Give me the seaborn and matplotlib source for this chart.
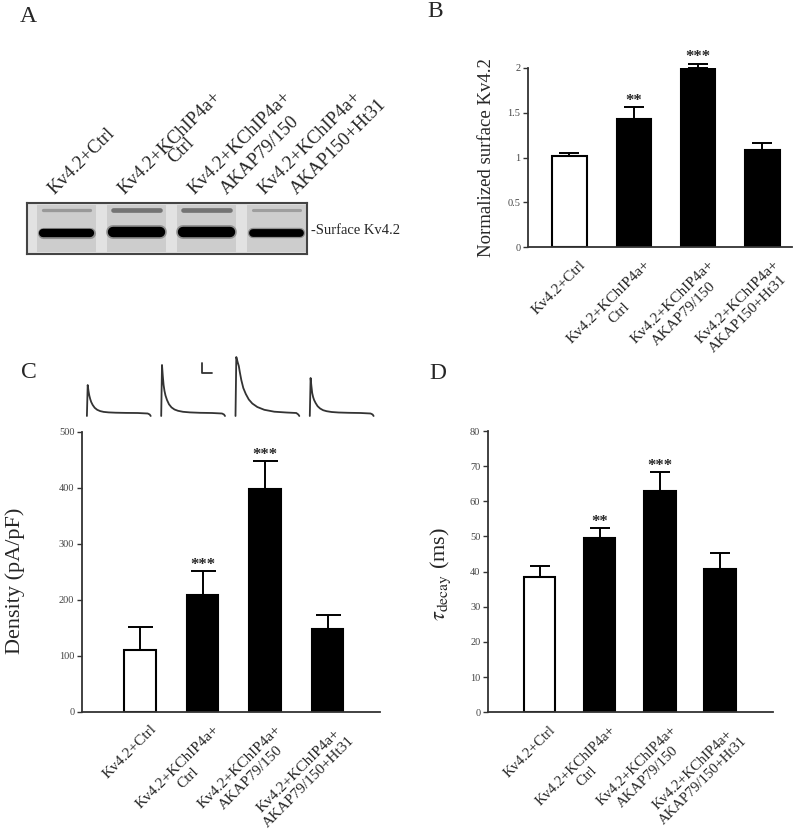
import matplotlib
matplotlib.use('Agg')
import matplotlib.pyplot as plt
import pandas as pd
import seaborn as sns
from matplotlib.patches import Rectangle
from matplotlib.transforms import ScaledTranslation

# ---- data ----
labels_ab = ['Kv4.2+Ctrl', 'Kv4.2+KChIP4a+\nCtrl', 'Kv4.2+KChIP4a+\nAKAP79/150',
             'Kv4.2+KChIP4a+\nAKAP150+Ht31']
labels_cd = ['Kv4.2+Ctrl', 'Kv4.2+KChIP4a+\nCtrl', 'Kv4.2+KChIP4a+\nAKAP79/150',
             'Kv4.2+KChIP4a+\nAKAP79/150+Ht31']
bar_colors = ['white', 'black', 'black', 'black']

# B: normalized surface Kv4.2
surface_mean = [1.02, 1.43, 2.00, 1.09]
surface_sem = [0.03, 0.13, 0.05, 0.07]
surface_stars = ['', '**', '***', '']

# C: current density (pA/pF)
density_mean = [110, 208, 398, 147]
density_sem = [42, 43, 50, 26]
density_stars = ['', '***', '***', '']

# D: decay time constant (ms)
tau_mean = [38.5, 49.5, 63.0, 40.7]
tau_sem = [3.1, 2.9, 5.3, 4.6]
tau_stars = ['', '**', '***', '']

# A: blot band strength per lane (relative)
blot_main_band = [0.8, 1.0, 1.0, 0.75]
blot_upper_band = [0.35, 0.75, 0.75, 0.3]

# C inset: example current traces (arbitrary units, baseline = 0)
trace_time = [-0.8, 0, 0.8, 1.6, 2.5, 3.5, 5, 7, 9.5, 12.5, 16, 21, 28, 38, 50, 60, 62, 63]
trace_1 = [-3, 28, 22, 17.5, 14, 11, 8, 5.2, 3.2, 1.9, 1.1, 0.6, 0.3, 0.1, 0, -0.5, -1.5, -3]
trace_2 = [-3, 48, 37, 28, 22, 17.5, 13, 8.7, 5.6, 3.5, 2.2, 1.2, 0.6, 0.2, 0, -0.5, -1.5, -3]
trace_3 = [-3, 56, 53, 50, 47, 41, 33, 25, 19, 13.5, 9.5, 6, 3.2, 1.3, 0.5, 0, -1.5, -3]
trace_4 = [-3, 35, 27, 20, 16, 13, 10, 6.8, 4.5, 2.8, 1.8, 1.0, 0.5, 0.2, 0, -0.5, -1.5, -3]

sns.set_style('ticks')
plt.rcParams['font.family'] = ['Liberation Serif', 'DejaVu Serif']
plt.rcParams['mathtext.fontset'] = 'stix'

W, H = 800, 838
fig = plt.figure(figsize=(W / 100, H / 100), dpi=100)


def px_axes(left, top, right, bottom):
    return fig.add_axes([left / W, 1 - bottom / H, (right - left) / W, (bottom - top) / H])


def bar_panel(ax, labels, means, sems, stars, ylim, yticks, xlim, width, capsize,
              label_size, ylabel, ylabel_size, ylabel_pos):
    df = pd.DataFrame({'group': labels, 'value': means})
    sns.barplot(data=df, x='group', y='value', hue='group', palette=bar_colors,
                legend=False, width=width, edgecolor='black', linewidth=1.5,
                saturation=1, ax=ax)
    eb = ax.errorbar(range(len(means)), means, yerr=[[0] * len(sems), sems], fmt='none',
                     ecolor='black', elinewidth=1.4, capsize=capsize, capthick=1.4, zorder=1)
    for art in list(eb.lines[1]) + list(eb.lines[2]):
        art.set_clip_on(False)
    for i, s in enumerate(stars):
        if s:
            ax.annotate(s, (i, means[i] + sems[i]), xytext=(0, 1.5), textcoords='offset points',
                        ha='center', va='baseline', fontsize=12, fontweight='bold',
                        annotation_clip=False)
    ax.set_xlim(*xlim)
    ax.set_ylim(*ylim)
    ax.set_yticks(yticks)
    ax.set_yticklabels([f'{t:g}' for t in yticks])
    ax.tick_params(axis='y', length=3.5, width=1, color='#333', labelsize=7.5,
                   labelcolor='#444', pad=2)
    ax.tick_params(axis='x', length=0, pad=8)
    ax.set_xticks(range(len(labels)))
    ax.set_xticklabels(labels, rotation=45, ha='right', va='top', rotation_mode='anchor',
                       multialignment='center', fontsize=label_size, linespacing=1.25)
    for lab in ax.get_xticklabels():
        lab.set_transform(lab.get_transform() + ScaledTranslation(7 / 72, 0, fig.dpi_scale_trans))
    ax.set_xlabel('')
    ax.set_ylabel(ylabel, fontsize=ylabel_size)
    ax.yaxis.set_label_coords(*ylabel_pos)
    sns.despine(ax=ax)
    for sp in ['left', 'bottom']:
        ax.spines[sp].set_linewidth(1.3)
        ax.spines[sp].set_color('#333')


# ---- A: surface blot ----
axA = px_axes(27, 203, 307, 254)
axA.set_facecolor('#e2e2e2')
axA.set_xlim(-0.564, 3.436)
axA.set_ylim(51, 0)
for i in range(4):
    axA.add_patch(Rectangle((i - 0.42, 2), 0.84, 47, color='#cdcdcd', lw=0))
    up = blot_upper_band[i]
    axA.plot([i - 0.33, i + 0.33], [7, 7], color=str(0.72 - 0.4 * up),
             lw=1.5 + 2.5 * up, solid_capstyle='round', alpha=0.9)
    main = blot_main_band[i]
    yb = 29 + (1 - main) * 6
    axA.plot([i - 0.34, i + 0.34], [yb, yb], color='#555', lw=10 * main,
             solid_capstyle='round', alpha=0.5)
    axA.plot([i - 0.33, i + 0.33], [yb, yb], color='black', lw=7.5 * main,
             solid_capstyle='round')
axA.set_xticks([])
axA.set_yticks([])
for sp in axA.spines.values():
    sp.set_linewidth(1.5)
    sp.set_color('#444')

# lane labels, each line placed on its own (pixel layout)
for i, lab in enumerate(labels_ab):
    c = 66.5 + 70 * i
    lines = lab.split('\n')
    fig.text((c - 12) / W, 1 - 195 / H, lines[0], rotation=45, rotation_mode='anchor',
             ha='left', va='baseline', fontsize=13.5)
    if len(lines) > 1:
        if len(lines[1]) < 6:
            x2, y2 = c + 38, 164
        else:
            x2, y2 = c + 20, 195
        fig.text(x2 / W, 1 - y2 / H, lines[1], rotation=45, rotation_mode='anchor',
                 ha='left', va='baseline', fontsize=13.5)
fig.text(311 / W, 1 - 231 / H, '-Surface Kv4.2', ha='left', va='center', fontsize=10.5)

# ---- B ----
axB = px_axes(528, 68, 792, 247.3)
bar_panel(axB, labels_ab, surface_mean, surface_sem, surface_stars, (0, 2.0),
          [0, 0.5, 1, 1.5, 2], (-0.645, 3.459), 0.53, 7.5, 11,
          'Normalized surface Kv4.2', 13.5, (-0.125, 0.5))

# ---- C ----
axC = px_axes(82, 431.7, 380, 711.7)
bar_panel(axC, labels_cd, density_mean, density_sem, density_stars, (0, 500),
          [0, 100, 200, 300, 400, 500], (-0.928, 3.84), 0.51, 9, 11,
          'Density (pA/pF)', 16, (-0.191, 0.467))

# C inset traces
axT = px_axes(80, 348, 380, 420)
axT.axis('off')
axT.set_xlim(-7.7, 292.3)
axT.set_ylim(-7, 65)
for i, tr in enumerate([trace_1, trace_2, trace_3, trace_4]):
    axT.plot([t + 74.3 * i for t in trace_time], tr, color='#333', lw=1.3)
axT.plot([114, 114, 124], [50, 40.3, 40.3], color='#333', lw=1.3)

# ---- D ----
axD = px_axes(488, 431, 773, 712.3)
bar_panel(axD, labels_cd, tau_mean, tau_sem, tau_stars, (0, 80),
          [0, 10, 20, 30, 40, 50, 60, 70, 80], (-0.856, 3.88), 0.52, 7.5, 10.5,
          r'$\tau_{\mathrm{decay}}$ (ms)', 16, (-0.123, 0.49))

# panel letters
for letter, x, y in [('A', 20, 6), ('B', 427, 1), ('C', 21, 362), ('D', 429, 363)]:
    fig.text(x / W, 1 - y / H, letter, ha='left', va='top', fontsize=17)

fig.savefig('out.png', dpi=100)
